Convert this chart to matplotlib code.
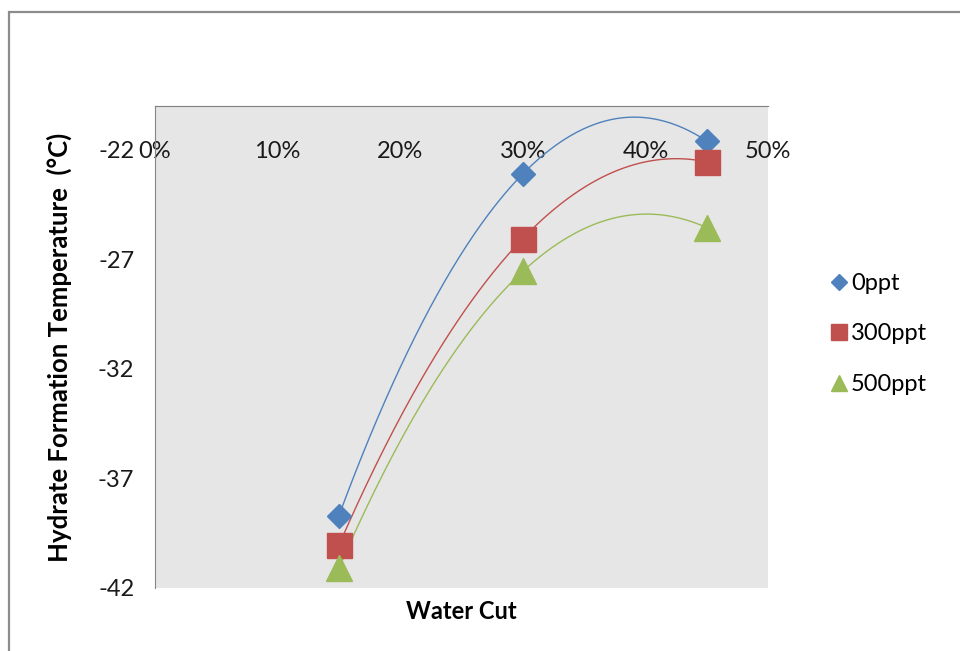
import numpy as np
import matplotlib.pyplot as plt
from matplotlib.patches import Rectangle
from matplotlib.ticker import PercentFormatter

plt.rcParams['font.family'] = ['Lato', 'DejaVu Sans']
plt.rcParams['axes.unicode_minus'] = False

# ---- Data: hydrate formation temperature vs water cut ----
water_cut = [0.15, 0.30, 0.45]
temp_0ppt = [-38.7, -23.1, -21.6]
temp_300ppt = [-40.05, -26.05, -22.55]
temp_500ppt = [-41.1, -27.55, -25.55]
series_names = ["0ppt", "300ppt", "500ppt"]

colors = ["#4F81BD", "#C0504D", "#9BBB59"]
markers = ["D", "s", "^"]
msizes = [12.5, 18, 19]

fig = plt.figure(figsize=(9.6, 6.51), dpi=100)
ax = fig.add_axes([155/960, 1 - 588/651, 613/960, (588 - 106)/651])
ax.set_facecolor("#E6E6E6")

# outer chart frame
fig.patches.append(Rectangle((9/960, -0.05), 1.1, 0.05 + (651 - 12)/651,
                             transform=fig.transFigure, fill=False,
                             edgecolor="#8C8C8C", lw=1.6))

xfit = np.linspace(min(water_cut), max(water_cut), 200)
for temps, name, c, m, ms in zip([temp_0ppt, temp_300ppt, temp_500ppt],
                                 series_names, colors, markers, msizes):
    # 2nd order polynomial trendline
    coef = np.polyfit(water_cut, temps, 2)
    ax.plot(xfit, np.polyval(coef, xfit), color=c, lw=1.0, zorder=2)
    ax.plot(water_cut, temps, linestyle="none", marker=m, markersize=ms,
            color=c, label=name, zorder=3)

ax.set_xlim(0, 0.5)
ax.set_ylim(-42, -20)
ax.set_xticks(np.arange(0, 0.51, 0.1))
ax.set_yticks(np.arange(-42, -21, 5))
ax.xaxis.set_major_formatter(PercentFormatter(1.0, decimals=0))

# horizontal axis crosses at -22, labels sit on that line
ax.spines['bottom'].set_position(('data', -22))
ax.spines['bottom'].set_visible(False)
ax.spines['right'].set_visible(False)
ax.spines['left'].set_color("#868686")
ax.spines['top'].set_color("#7F7F7F")
ax.tick_params(axis='x', length=0, pad=-6, labelsize=17, colors="#1A1A1A")
ax.tick_params(axis='y', length=0, pad=15, labelsize=17, colors="#1A1A1A")

ax.set_xlabel("Water Cut", fontsize=17, fontweight='bold')
ax.xaxis.set_label_coords(0.5, -0.025)
ax.set_ylabel("Hydrate Formation Temperature  (°C)", fontsize=18.5, fontweight='bold')
ax.yaxis.set_label_coords(-0.135, 0.5)

leg = ax.legend(loc='center left', bbox_to_anchor=(1.07, 0.527), frameon=False,
                fontsize=17, markerscale=0.62, handlelength=0.6,
                handletextpad=0.2, labelspacing=1.25)

fig.savefig("out.png", dpi=100)
